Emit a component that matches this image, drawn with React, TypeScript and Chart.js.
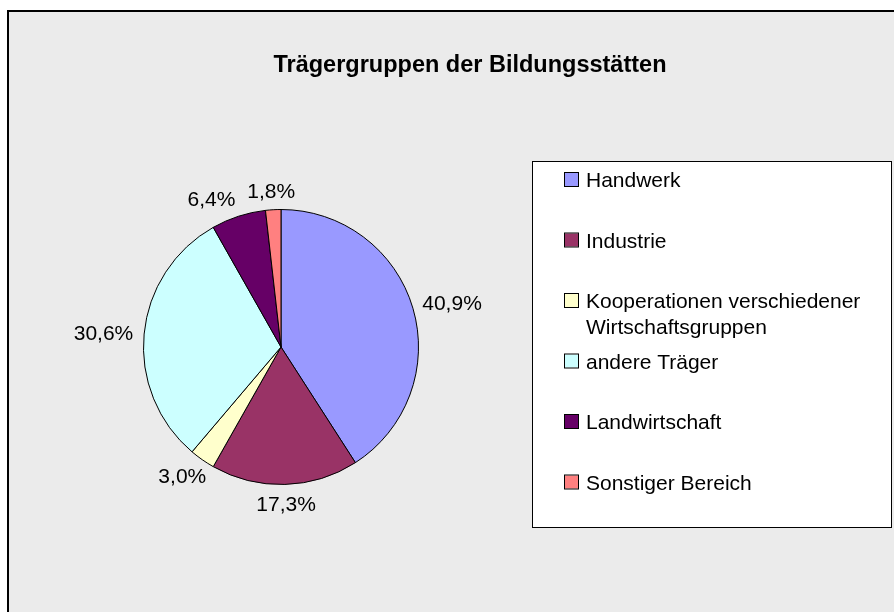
import React, { useEffect, useRef } from "react";
import { Chart, registerables } from "chart.js";

Chart.register(...registerables);

const TITLE = "Trägergruppen der Bildungsstätten";
const CATEGORIES = [
  "Handwerk",
  "Industrie",
  "Kooperationen verschiedener Wirtschaftsgruppen",
  "andere Träger",
  "Landwirtschaft",
  "Sonstiger Bereich",
];
const VALUES = [40.9, 17.3, 3.0, 30.6, 6.4, 1.8];
const COLORS = ["#9999FF", "#993366", "#FFFFCC", "#CCFFFF", "#660066", "#FF8080"];

const FONT = '"Liberation Sans", Arial, sans-serif';

const fmt = (v: number) => v.toFixed(1).replace(".", ",") + "%";

const decorPlugin = {
  id: "decor",
  beforeDraw(chart: any) {
    const ctx = chart.ctx as CanvasRenderingContext2D;
    const W = chart.width;
    const H = chart.height;
    ctx.save();
    ctx.fillStyle = "#ffffff";
    ctx.fillRect(0, 0, W, H);
    ctx.fillStyle = "#ebebeb";
    ctx.fillRect(8, 11, W, H);
    ctx.strokeStyle = "#000000";
    ctx.lineWidth = 2;
    ctx.strokeRect(8, 11, W + 20, H + 20);
    ctx.restore();
  },
  afterDatasetsDraw(chart: any) {
    const ctx = chart.ctx as CanvasRenderingContext2D;
    const meta = chart.getDatasetMeta(0);
    ctx.save();
    // data labels
    ctx.font = `21px ${FONT}`;
    ctx.fillStyle = "#000000";
    ctx.textAlign = "center";
    ctx.textBaseline = "alphabetic";
    const hh = 8;
    const boxes = meta.data.map((arc: any, i: number) => {
      const { x, y, startAngle, endAngle, outerRadius } = arc.getProps(
        ["x", "y", "startAngle", "endAngle", "outerRadius"],
        true
      );
      const mid = (startAngle + endAngle) / 2;
      const ux = Math.cos(mid);
      const uy = Math.sin(mid);
      const text = fmt(VALUES[i]);
      const w = ctx.measureText(text).width;
      const d = outerRadius + 11;
      return {
        text,
        w,
        ux,
        cx: x + ux * d + (ux * w) / 2,
        cy: y + uy * d + uy * hh,
      };
    });
    // simple collision avoidance: push earlier label away horizontally
    const pad = 12;
    for (let i = 0; i < boxes.length; i++) {
      for (let j = i + 1; j < boxes.length; j++) {
        const a = boxes[i];
        const b = boxes[j];
        const overlapY = Math.abs(a.cy - b.cy) < hh * 2 + 2;
        const need = (a.w + b.w) / 2 + pad - Math.abs(a.cx - b.cx);
        if (overlapY && need > 0) {
          const dir = a.cx <= b.cx ? -1 : 1;
          a.cx += dir * need;
        }
      }
    }
    boxes.forEach((b: any) => ctx.fillText(b.text, b.cx, b.cy + 7.5));

    // title
    ctx.font = `bold 23.5px ${FONT}`;
    ctx.textAlign = "center";
    ctx.fillText(TITLE, 470, 72);

    // legend
    const lx = 532, ly = 161, lw = 359, lh = 366;
    ctx.fillStyle = "#ffffff";
    ctx.fillRect(lx, ly, lw, lh);
    ctx.strokeStyle = "#000000";
    ctx.lineWidth = 1;
    ctx.strokeRect(lx + 0.5, ly + 0.5, lw, lh);
    ctx.font = `21px ${FONT}`;
    ctx.textAlign = "left";
    const textX = 586;
    const maxW = lx + lw - textX - 8;
    CATEGORIES.forEach((label, i) => {
      const cyItem = ly + 18.5 + i * 60.5;
      // marker
      ctx.fillStyle = COLORS[i];
      ctx.fillRect(565, cyItem - 6.5, 13, 13);
      ctx.strokeStyle = "#000000";
      ctx.strokeRect(564.5, cyItem - 7, 14, 14);
      // wrapped text
      const words = label.split(" ");
      const lines: string[] = [];
      let cur = "";
      words.forEach((wd) => {
        const test = cur ? cur + " " + wd : wd;
        if (ctx.measureText(test).width > maxW && cur) {
          lines.push(cur);
          cur = wd;
        } else cur = test;
      });
      if (cur) lines.push(cur);
      ctx.fillStyle = "#000000";
      lines.forEach((ln, j) => {
        ctx.fillText(ln, textX, cyItem + 7.5 + j * 26);
      });
    });
    ctx.restore();
  },
};

export default function App() {
  const ref = useRef<HTMLCanvasElement | null>(null);
  useEffect(() => {
    if (!ref.current) return;
    const chart = new Chart(ref.current, {
      type: "pie",
      data: {
        labels: CATEGORIES,
        datasets: [
          {
            data: VALUES,
            backgroundColor: COLORS,
            borderColor: "#000000",
            borderWidth: 1,
          },
        ],
      },
      options: {
        animation: false,
        responsive: false,
        devicePixelRatio: 1,
        layout: { padding: { left: 143, right: 475, top: 209, bottom: 127 } },
        plugins: {
          legend: { display: false },
          tooltip: { enabled: false },
          title: { display: false },
        },
      },
      plugins: [decorPlugin],
    });
    return () => chart.destroy();
  }, []);
  return (
    <div style={{ position: "fixed", left: 0, top: 0, width: 894, height: 612 }}>
      <canvas ref={ref} width={894} height={612} style={{ display: "block" }} />
    </div>
  );
}
